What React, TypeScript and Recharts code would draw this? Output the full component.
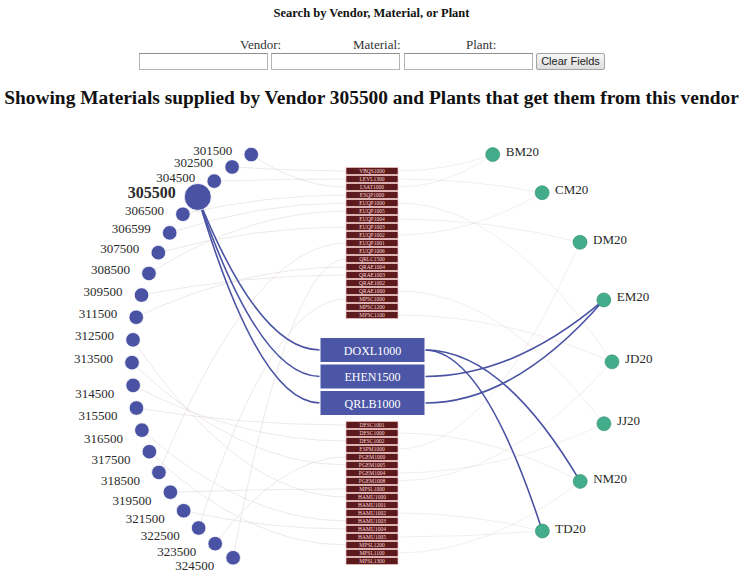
import { ComposedChart, Scatter, Line, XAxis, YAxis } from 'recharts';

const vendors = [
  '301500', '302500', '304500', '305500', '306500', '306599', '307500', '308500',
  '309500', '311500', '312500', '313500', '314500', '315500', '316500', '317500',
  '318500', '319500', '321500', '322500', '323500', '324500',
];
const selectedVendor = '305500';

const plants = ['BM20', 'CM20', 'DM20', 'EM20', 'JD20', 'JJ20', 'NM20', 'TD20'];

const materialsTop = [
  'VBQS1000', 'LEVL1300', 'LSAT1000', 'ESQP1000', 'EUQP1000', 'EUQP1005', 'EUQP1004',
  'EUQP1003', 'EUQP1002', 'EUQP1001', 'EUQP1006', 'QRLC1500', 'QRAE1004', 'QRAE1003',
  'QRAE1002', 'QRAE1000', 'MPSC1000', 'MPSC1200', 'MPSC1100',
];
const materialsPicked = ['DOXL1000', 'EHEN1500', 'QRLB1000'];
const materialsBottom = [
  'DESC1001', 'DESC1000', 'DESC1002', 'ESPM1000', 'PGEM1000', 'PGEM1005', 'PGEM1004',
  'PGEM1008', 'MPSL1000', 'HAMU1000', 'HAMU1001', 'HAMU1002', 'HAMU1003', 'HAMU1004',
  'HAMU1005', 'MPSL1200', 'MPSL1100', 'MPSL1300',
];

// vendor -> material, material -> plant for the selected vendor
const pickedVendorLinks = [
  ['305500', 'DOXL1000'],
  ['305500', 'EHEN1500'],
  ['305500', 'QRLB1000'],
];
const pickedPlantLinks = [
  ['DOXL1000', 'NM20'],
  ['DOXL1000', 'TD20'],
  ['EHEN1500', 'EM20'],
  ['QRLB1000', 'EM20'],
];

// the rest of the network, drawn faint
const otherVendorLinks = [
  ['301500', 'LSAT1000'], ['302500', 'VBQS1000'], ['304500', 'LEVL1300'],
  ['306500', 'ESQP1000'], ['307500', 'EUQP1003'], ['308500', 'EUQP1005'],
  ['309500', 'QRAE1003'], ['311500', 'QRAE1004'], ['312500', 'HAMU1000'],
  ['313500', 'PGEM1005'], ['314500', 'DESC1002'], ['315500', 'DESC1001'],
  ['316500', 'HAMU1003'], ['318500', 'EUQP1001'], ['319500', 'MPSL1000'],
  ['321500', 'HAMU1004'], ['322500', 'MPSC1000'], ['323500', 'PGEM1000'],
  ['324500', 'QRLC1500'], ['306599', 'EUQP1000'], ['317500', 'MPSL1200'],
];
const otherPlantLinks = [
  ['VBQS1000', 'BM20'], ['LEVL1300', 'CM20'], ['EUQP1004', 'DM20'],
  ['EUQP1000', 'JD20'], ['QRAE1000', 'JJ20'], ['MPSC1100', 'JD20'],
  ['DESC1000', 'NM20'], ['PGEM1004', 'JJ20'], ['HAMU1002', 'TD20'],
  ['MPSL1100', 'NM20'], ['ESPM1000', 'DM20'], ['EUQP1002', 'CM20'],
  ['PGEM1008', 'JD20'], ['LSAT1000', 'BM20'], ['HAMU1005', 'TD20'],
];

// ---- layout (circle for vendors/plants, column for materials) ----
const W = 743;
const H = 573;
const CX = 372;
const CY = 362;
const R = 240;
const rad = (d: number) => (d * Math.PI) / 180;

const vendorNodes = vendors.map((name, i) => {
  const a = rad(239.8 - i * 5.45);
  return {
    name,
    x: CX + R * Math.cos(a),
    y: CY + R * Math.sin(a),
    big: name === selectedVendor,
    below: Math.sin(a) > 0.05,
  };
});

const plantNodes = plants.map((name, j) => {
  const a = rad(-59.8 + j * 14.94);
  return { name, x: CX + R * Math.cos(a), y: CY + R * Math.sin(a) };
});

const materialNodes = [
  ...materialsTop.map((name, i) => ({ name, x: CX, y: 171 + i * 8, w: 52, h: 7, picked: false })),
  ...materialsPicked.map((name, i) => ({ name, x: CX + 0.5, y: 350 + i * 26.5, w: 105, h: 25, picked: true })),
  ...materialsBottom.map((name, i) => ({ name, x: CX, y: 425 + i * 8, w: 52, h: 7, picked: false })),
];

const findV = (n: string) => vendorNodes.find((v) => v.name === n)!;
const findP = (n: string) => plantNodes.find((p) => p.name === n)!;
const findM = (n: string) => materialNodes.find((m) => m.name === n)!;

const toMaterial = (links: string[][]) =>
  links.map(([v, m]) => {
    const a = findV(v);
    const b = findM(m);
    return [{ x: a.x, y: a.y }, { x: b.x - b.w / 2, y: b.y }];
  });
const toPlant = (links: string[][]) =>
  links.map(([m, p]) => {
    const a = findM(m);
    const b = findP(p);
    return [{ x: a.x + a.w / 2, y: a.y }, { x: b.x, y: b.y }];
  });

// quadratic bends: horizontal at the material box end
const bend = (flatAtEnd: boolean) => (ctx: any) => {
  let pts: number[][] = [];
  return {
    areaStart() {},
    areaEnd() {},
    lineStart() {
      pts = [];
    },
    point(x: number, y: number) {
      pts.push([x, y]);
    },
    lineEnd() {
      if (pts.length < 2) return;
      const [x0, y0] = pts[0];
      const [x1, y1] = pts[pts.length - 1];
      ctx.moveTo(x0, y0);
      ctx.quadraticCurveTo((x0 + x1) / 2, flatAtEnd ? y1 : y0, x1, y1);
    },
  };
};
const bendIn = bend(true);
const bendOut = bend(false);

const BLUE = '#4a53a3';
const GREEN = '#43ad8b';
const FAINT = '#d8c9c9';

const VendorDot = (props: any) => {
  const { cx, cy, payload } = props;
  const r = payload.big ? 13.5 : 7.3;
  const lx = cx - (payload.big ? 22 : 19);
  const ly = payload.big ? cy + 1 : payload.below ? cy + 12.5 : cy + 0.5;
  return (
    <g>
      <circle cx={cx} cy={cy} r={r} fill={BLUE} stroke="#fff" strokeWidth={0.8} />
      <text
        x={lx}
        y={ly}
        textAnchor="end"
        fontFamily="Liberation Serif"
        fontSize={payload.big ? 16 : 13}
        fontWeight={payload.big ? 'bold' : 'normal'}
        fill="#2a2a2a"
      >
        {payload.name}
      </text>
    </g>
  );
};

const PlantDot = (props: any) => {
  const { cx, cy, payload } = props;
  return (
    <g>
      <circle cx={cx} cy={cy} r={7} fill={GREEN} stroke="#2f8f70" strokeWidth={0.6} />
      <text x={cx + 13} y={cy + 1.5} fontFamily="Liberation Serif" fontSize={13} fill="#2a2a2a">
        {payload.name}
      </text>
    </g>
  );
};

const MaterialBox = (props: any) => {
  const { cx, cy, payload } = props;
  const { w, h, picked } = payload;
  return (
    <g>
      <rect
        x={cx - w / 2}
        y={cy - h / 2}
        width={w}
        height={h}
        fill={picked ? '#4c56a6' : '#5c1a1c'}
        stroke={picked ? '#ffffff' : '#f2c4c4'}
        strokeWidth={picked ? 1 : 0.7}
      />
      <text
        x={cx}
        y={cy + (picked ? 4.5 : 2)}
        textAnchor="middle"
        fontFamily="Liberation Serif"
        fontSize={picked ? 12 : 5.5}
        fill={picked ? '#ffffff' : '#f6d6d6'}
      >
        {payload.name}
      </text>
    </g>
  );
};

const fieldBox = (left: number) => ({
  position: 'absolute' as const,
  left,
  top: 53,
  width: 127,
  height: 15,
  border: '1px solid #b5b5b5',
  borderTopColor: '#8f8f8f',
  background: '#fff',
});

const labelStyle = (left: number) => ({
  position: 'absolute' as const,
  left,
  top: 37,
  fontSize: 13,
  color: '#333',
});

export default function App() {
  const faintIn = toMaterial(otherVendorLinks);
  const faintOut = toPlant(otherPlantLinks);
  const pickedIn = toMaterial(pickedVendorLinks);
  const pickedOut = toPlant(pickedPlantLinks);

  return (
    <div
      style={{
        position: 'absolute',
        left: 0,
        top: 0,
        width: W,
        height: H,
        background: '#fff',
        fontFamily: 'Liberation Serif',
      }}
    >
      <div style={{ position: 'absolute', left: 0, top: 0 }}>
        <ComposedChart width={W} height={H} margin={{ top: 0, right: 0, bottom: 0, left: 0 }}>
          <XAxis type="number" dataKey="x" domain={[0, W]} allowDataOverflow hide />
          <YAxis type="number" dataKey="y" domain={[0, H]} allowDataOverflow reversed hide />
          {faintIn.map((d, i) => (
            <Line key={`fi${i}`} data={d} dataKey="y" type={bendIn as any} stroke={FAINT} strokeWidth={0.8} strokeOpacity={0.5} dot={false} activeDot={false} legendType="none" isAnimationActive={false} />
          ))}
          {faintOut.map((d, i) => (
            <Line key={`fo${i}`} data={d} dataKey="y" type={bendOut as any} stroke={FAINT} strokeWidth={0.8} strokeOpacity={0.4} dot={false} activeDot={false} legendType="none" isAnimationActive={false} />
          ))}
          {pickedIn.map((d, i) => (
            <Line key={`pi${i}`} data={d} dataKey="y" type={bendIn as any} stroke={BLUE} strokeWidth={1.6} dot={false} activeDot={false} legendType="none" isAnimationActive={false} />
          ))}
          {pickedOut.map((d, i) => (
            <Line key={`po${i}`} data={d} dataKey="y" type={bendOut as any} stroke={BLUE} strokeWidth={1.6} dot={false} activeDot={false} legendType="none" isAnimationActive={false} />
          ))}
          <Scatter data={materialNodes} shape={MaterialBox} isAnimationActive={false} />
          <Scatter data={vendorNodes} shape={VendorDot} isAnimationActive={false} />
          <Scatter data={plantNodes} shape={PlantDot} isAnimationActive={false} />
        </ComposedChart>
      </div>

      <div
        style={{
          position: 'absolute',
          left: 0,
          top: 6,
          width: W,
          textAlign: 'center',
          fontSize: 12.5,
          fontWeight: 'bold',
          color: '#111',
        }}
      >
        Search by Vendor, Material, or Plant
      </div>
      <div style={labelStyle(240)}>Vendor:</div>
      <div style={labelStyle(353)}>Material:</div>
      <div style={labelStyle(466)}>Plant:</div>
      <div style={fieldBox(139)} />
      <div style={fieldBox(271)} />
      <div style={fieldBox(404)} />
      <div
        style={{
          position: 'absolute',
          left: 536,
          top: 53,
          width: 67,
          height: 15,
          border: '1px solid #a3a3a3',
          borderRadius: 2,
          background: 'linear-gradient(#f7f7f7, #dddddd)',
          fontFamily: 'Liberation Sans',
          fontSize: 11,
          lineHeight: '15px',
          textAlign: 'center',
          color: '#222',
        }}
      >
        Clear Fields
      </div>
      <div
        style={{
          position: 'absolute',
          left: 0,
          top: 87,
          width: W,
          textAlign: 'center',
          fontSize: 19.4,
          fontWeight: 'bold',
          color: '#111',
          whiteSpace: 'nowrap',
        }}
      >
        Showing Materials supplied by Vendor 305500 and Plants that get them from this vendor
      </div>
    </div>
  );
}
